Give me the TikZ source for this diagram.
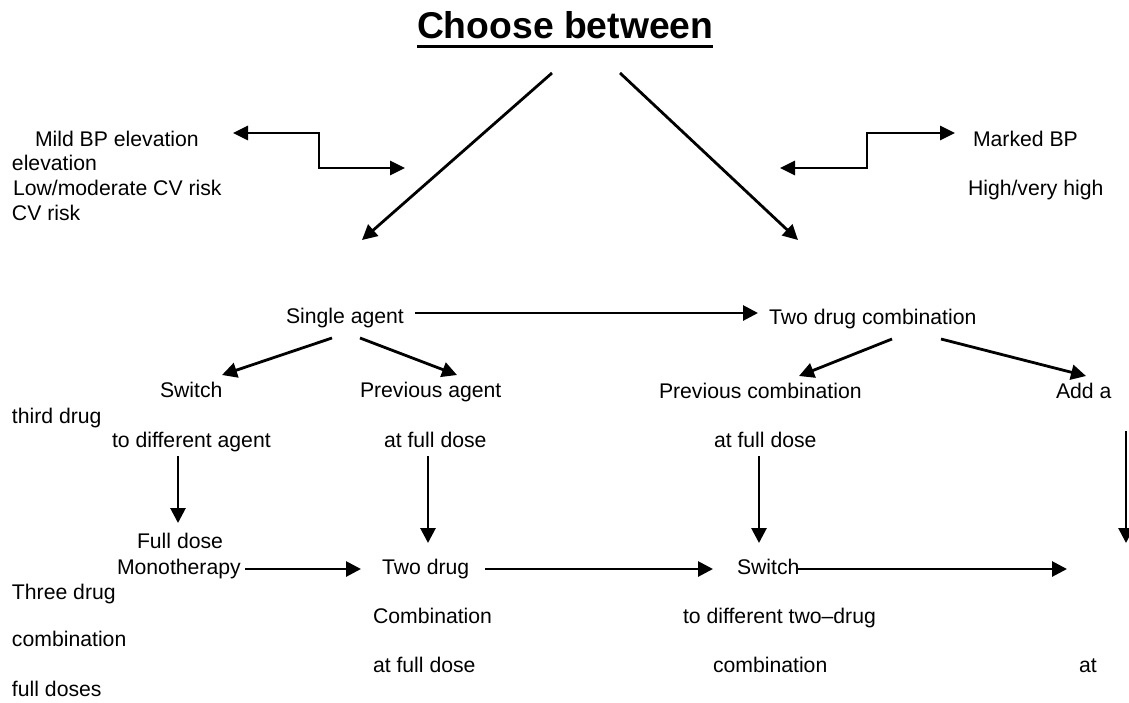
\documentclass[tikz,border=0pt]{standalone}
\usepackage{fontspec}
\setmainfont{Liberation Sans}
\usetikzlibrary{arrows.meta}
\begin{document}
\begin{tikzpicture}[x=1pt,y=-1pt,
  lbl/.style={inner sep=0pt,outer sep=0pt,anchor=base west,font=\fontsize{21.2}{25}\selectfont},
  ttl/.style={inner sep=0pt,outer sep=0pt,anchor=base west,font=\fontsize{37.3}{42}\selectfont\bfseries},
  conn/.style={line width=2.8pt,-{Triangle[length=15pt,width=15pt]}},
  dconn/.style={line width=2.8pt,{Triangle[length=15pt,width=14pt]}-{Triangle[length=15pt,width=14pt]}}
]
\useasboundingbox (0,0) rectangle (1129,702);
\fill[white] (0,0) rectangle (1129,702);

% texts
\node[ttl] (title) at (417,38) {Choose between};
\node[lbl] (mild) at (35,146) {Mild BP elevation};
\node[lbl] (elev) at (12,170) {elevation};
\node[lbl] (low) at (13,195) {Low/moderate CV risk};
\node[lbl] (cvrisk) at (12,220) {CV risk};
\node[lbl] (marked) at (973,146) {Marked BP};
\node[lbl] (high) at (968,195) {High/very high};
\node[lbl] (single) at (286,323) {Single agent};
\node[lbl] (twocomb) at (769,324) {Two drug combination};
\node[lbl] (switchA) at (160,397) {Switch};
\node[lbl] (prevagent) at (360,397) {Previous agent};
\node[lbl] (prevcomb) at (659,398) {Previous combination};
\node[lbl] (adda) at (1056,398) {Add a};
\node[lbl] (third) at (12,423) {third drug};
\node[lbl] (todiff) at (112,447) {to different agent};
\node[lbl] (afdA) at (384,447) {at full dose};
\node[lbl] (afdB) at (714,447) {at full dose};
\node[lbl] (fulldose) at (137,548) {Full dose};
\node[lbl] (mono) at (117,574) {Monotherapy};
\node[lbl] (twodrug) at (382,574) {Two drug};
\node[lbl] (switchB) at (737,574) {Switch};
\node[lbl] (three) at (12,599) {Three drug};
\node[lbl] (combiA) at (373,623) {Combination};
\node[lbl] (todiffB) at (683,623) {to different two–drug};
\node[lbl] (combB) at (12,646) {combination};
\node[lbl] (afdC) at (373,672) {at full dose};
\node[lbl] (combC) at (713,672) {combination};
\node[lbl] (atnode) at (1079,672) {at};
\node[lbl] (fulldoses) at (12,696) {full doses};

% title underline
\draw[line width=3pt] ([yshift=-8pt]title.base west) -- ([yshift=-8pt]title.base east);

% connector end points
\coordinate (tL) at (552,73);
\coordinate (tR) at (620,73);
\coordinate (hL) at (362,240);
\coordinate (hR) at (798,240);
\coordinate (eLa) at (233,133);
\coordinate (eLb) at (319,133);
\coordinate (eLc) at (319,168);
\coordinate (eLd) at (405,168);
\coordinate (eRa) at (780,168);
\coordinate (eRb) at (867,168);
\coordinate (eRc) at (867,133);
\coordinate (eRd) at (955,133);
\coordinate (sOut) at (415,313);
\coordinate (tcIn) at (758,313);
\coordinate (s1) at (332,338);
\coordinate (s1e) at (222,375);
\coordinate (s2) at (360,338);
\coordinate (s2e) at (457,375);
\coordinate (c1) at (892,339);
\coordinate (c1e) at (799,376);
\coordinate (c2) at (941,339);
\coordinate (c2e) at (1086,376);
\coordinate (v1a) at (178,456);
\coordinate (v1b) at (178,523);
\coordinate (v2a) at (428,456);
\coordinate (v2b) at (428,543);
\coordinate (v3a) at (759,456);
\coordinate (v3b) at (759,543);
\coordinate (v4a) at (1126,431);
\coordinate (v4b) at (1126,543);
\coordinate (h1a) at (245,569);
\coordinate (h1b) at (361,569);
\coordinate (h2a) at (485,569);
\coordinate (h2b) at (713,569);
\coordinate (h3a) at (798,569);
\coordinate (h3b) at (1067,569);

% connectors
\draw[conn] (tL) -- (hL);
\draw[conn] (tR) -- (hR);
\draw[dconn] (eLa) -- (eLb) -- (eLc) -- (eLd);
\draw[dconn] (eRa) -- (eRb) -- (eRc) -- (eRd);
\draw[conn] (sOut) -- (tcIn);
\draw[conn] (s1) -- (s1e);
\draw[conn] (s2) -- (s2e);
\draw[conn] (c1) -- (c1e);
\draw[conn] (c2) -- (c2e);
\draw[conn] (v1a) -- (v1b);
\draw[conn] (v2a) -- (v2b);
\draw[conn] (v3a) -- (v3b);
\draw[conn] (v4a) -- (v4b);
\draw[conn] (h1a) -- (h1b);
\draw[conn] (h2a) -- (h2b);
\draw[conn] (h3a) -- (h3b);
\end{tikzpicture}
\end{document}
